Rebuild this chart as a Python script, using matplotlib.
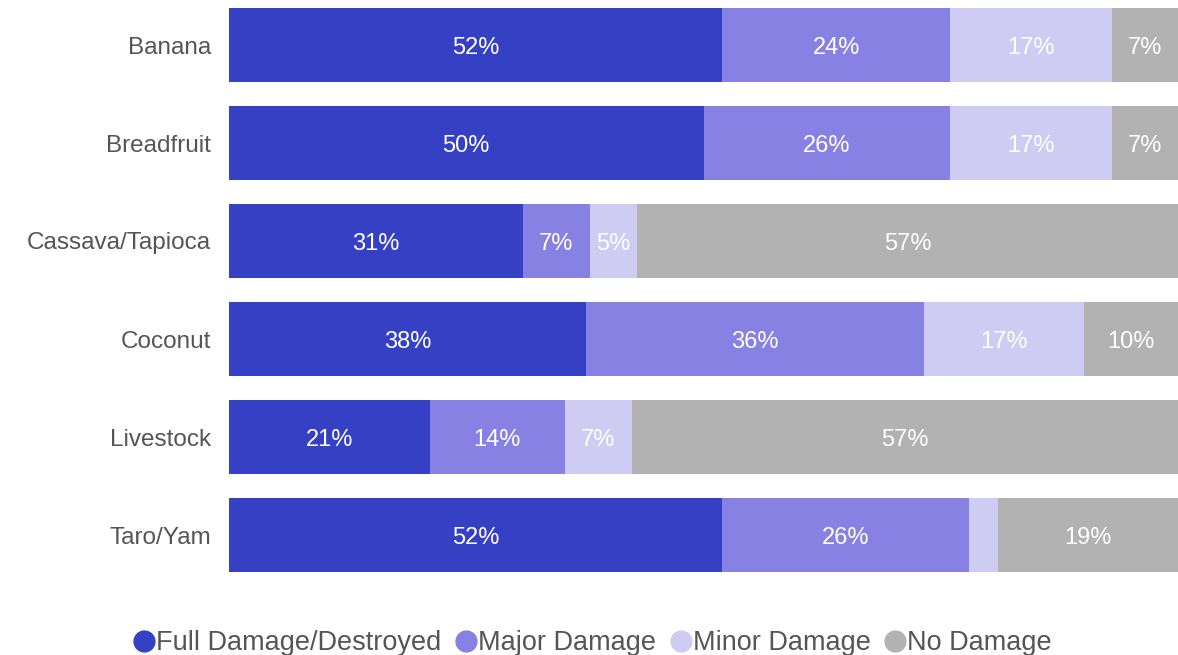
import matplotlib
matplotlib.use("Agg")
import matplotlib.pyplot as plt
from matplotlib.lines import Line2D

categories = ["Banana", "Breadfruit", "Cassava/Tapioca", "Coconut", "Livestock", "Taro/Yam"]
series_names = ["Full Damage/Destroyed", "Major Damage", "Minor Damage", "No Damage"]
full_damage = [52, 50, 31, 38, 21, 52]
major_damage = [24, 26, 7, 36, 14, 26]
minor_damage = [17, 17, 5, 17, 7, 3]
no_damage = [7, 7, 57, 10, 57, 19]
colors = ["#3540C4", "#8781E3", "#CFCCF4", "#B2B2B2"]

plt.rcParams['font.family'] = ['Liberation Sans', 'DejaVu Sans']

fig = plt.figure(figsize=(11.78, 6.55), dpi=100)
ax = fig.add_axes([229/1178, 1 - 584/655, 949/1178, 588/655])

series = [full_damage, major_damage, minor_damage, no_damage]
totals = [sum(vals) for vals in zip(*series)]
ypos = list(range(len(categories)))
left = [0.0] * len(categories)
for name, vals, c in zip(series_names, series, colors):
    widths = [v / t * 100 for v, t in zip(vals, totals)]
    ax.barh(ypos, widths, left=left, height=0.765, color=c, label=name)
    for y, v, w, l in zip(ypos, vals, widths, left):
        if v >= 4:
            ax.text(l + w / 2, y, f"{v}%", ha="center", va="center_baseline",
                    color="white", fontsize=17)
    left = [a + b for a, b in zip(left, widths)]

ax.set_xlim(0, 100)
ax.set_ylim(5.5, -0.5)
ax.set_yticks(ypos)
ax.set_yticklabels(categories, fontsize=17.5, color="#555555", va="center_baseline")
ax.tick_params(axis="y", length=0, pad=13)
ax.set_xticks([])
for s in ax.spines.values():
    s.set_visible(False)

handles = [Line2D([0], [0], marker="o", linestyle="", markersize=15,
                  markerfacecolor=c, markeredgecolor=c) for c in colors]
fig.legend(handles, series_names, loc="center", bbox_to_anchor=(592/1178, 1 - 643/655),
           ncol=4, frameon=False, fontsize=19.5, handletextpad=0.0,
           columnspacing=0.45, labelcolor="#555555", handlelength=0.9)

fig.savefig("out.png", dpi=100)
